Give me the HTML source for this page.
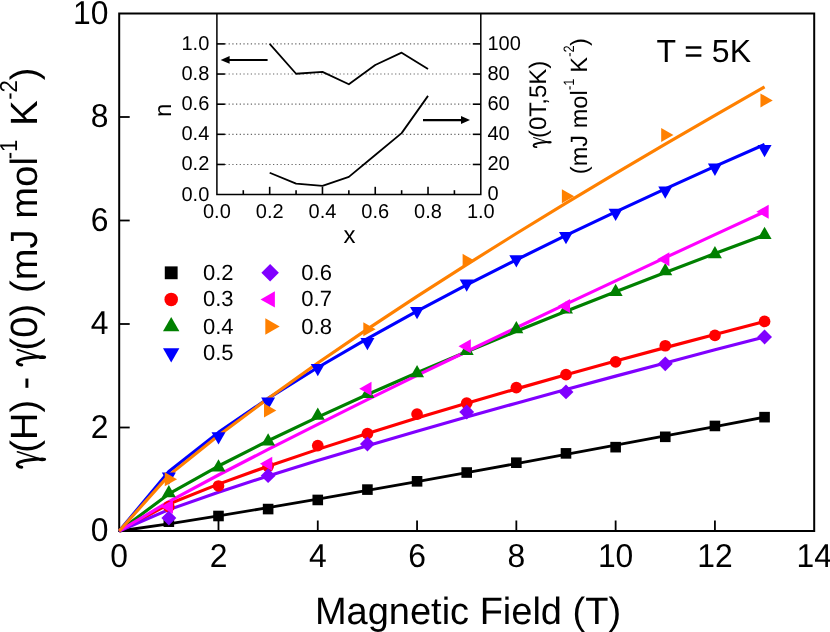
<!DOCTYPE html>
<html><head><meta charset="utf-8"><title>chart</title><style>html,body{margin:0;padding:0;background:#fff;overflow:hidden}svg{will-change:transform;text-rendering:geometricPrecision}</style></head><body>
<svg width="830" height="632" viewBox="0 0 830 632" style="display:block;font-family:'Liberation Sans',sans-serif">
<rect width="830" height="632" fill="#fff"/>
<rect x="119.20" y="13.50" width="695.00" height="517.50" fill="none" stroke="#000" stroke-width="2"/>
<line x1="218.49" y1="531.00" x2="218.49" y2="520.50" stroke="#000" stroke-width="1.8"/>
<line x1="317.77" y1="531.00" x2="317.77" y2="520.50" stroke="#000" stroke-width="1.8"/>
<line x1="417.06" y1="531.00" x2="417.06" y2="520.50" stroke="#000" stroke-width="1.8"/>
<line x1="516.34" y1="531.00" x2="516.34" y2="520.50" stroke="#000" stroke-width="1.8"/>
<line x1="615.63" y1="531.00" x2="615.63" y2="520.50" stroke="#000" stroke-width="1.8"/>
<line x1="714.92" y1="531.00" x2="714.92" y2="520.50" stroke="#000" stroke-width="1.8"/>
<line x1="119.20" y1="427.50" x2="129.70" y2="427.50" stroke="#000" stroke-width="1.8"/>
<line x1="119.20" y1="324.00" x2="129.70" y2="324.00" stroke="#000" stroke-width="1.8"/>
<line x1="119.20" y1="220.50" x2="129.70" y2="220.50" stroke="#000" stroke-width="1.8"/>
<line x1="119.20" y1="117.00" x2="129.70" y2="117.00" stroke="#000" stroke-width="1.8"/>
<text transform="translate(119.20,566.80) scale(0.965,1)" font-size="33" text-anchor="middle">0</text>
<text transform="translate(218.49,566.80) scale(0.965,1)" font-size="33" text-anchor="middle">2</text>
<text transform="translate(317.77,566.80) scale(0.965,1)" font-size="33" text-anchor="middle">4</text>
<text transform="translate(417.06,566.80) scale(0.965,1)" font-size="33" text-anchor="middle">6</text>
<text transform="translate(516.34,566.80) scale(0.965,1)" font-size="33" text-anchor="middle">8</text>
<text transform="translate(615.63,566.80) scale(0.965,1)" font-size="33" text-anchor="middle">10</text>
<text transform="translate(714.92,566.80) scale(0.965,1)" font-size="33" text-anchor="middle">12</text>
<text transform="translate(814.20,566.80) scale(0.965,1)" font-size="33" text-anchor="middle">14</text>
<text transform="translate(108.40,541.10) scale(0.965,1)" font-size="33" text-anchor="end">0</text>
<text transform="translate(108.40,437.60) scale(0.965,1)" font-size="33" text-anchor="end">2</text>
<text transform="translate(108.40,334.10) scale(0.965,1)" font-size="33" text-anchor="end">4</text>
<text transform="translate(108.40,230.60) scale(0.965,1)" font-size="33" text-anchor="end">6</text>
<text transform="translate(108.40,127.10) scale(0.965,1)" font-size="33" text-anchor="end">8</text>
<text transform="translate(108.40,23.60) scale(0.965,1)" font-size="33" text-anchor="end">10</text>
<text x="314.9" y="623.5" font-size="38">Magnetic Field (T)</text>
<g transform="translate(37,468.3) rotate(-90)"><g transform="translate(0.00,0) scale(38,-38)" fill="none" stroke="#000" stroke-linecap="round"><path d="M0.03,0.40 C0.035,0.50 0.09,0.545 0.14,0.50 C0.19,0.44 0.225,0.20 0.245,-0.04" stroke-width="0.078"/><path d="M0.435,0.515 L0.262,-0.02" stroke-width="0.042"/><ellipse cx="0.236" cy="-0.135" rx="0.05" ry="0.105" fill="#000" stroke="none"/></g><text x="15.62" y="0" font-size="38">(H) - </text><g transform="translate(102.14,0) scale(38,-38)" fill="none" stroke="#000" stroke-linecap="round"><path d="M0.03,0.40 C0.035,0.50 0.09,0.545 0.14,0.50 C0.19,0.44 0.225,0.20 0.245,-0.04" stroke-width="0.078"/><path d="M0.435,0.515 L0.262,-0.02" stroke-width="0.042"/><ellipse cx="0.236" cy="-0.135" rx="0.05" ry="0.105" fill="#000" stroke="none"/></g><text x="117.76" y="0" font-size="38" letter-spacing="0.13">(0) (mJ mol</text><text transform="translate(309.05,-20.3) scale(0.9,1)" font-size="24.5">-1</text><text x="342.62" y="0" font-size="38">K</text><text transform="translate(368.46,-20.3) scale(0.9,1)" font-size="24.5">-2</text><text x="387.97" y="0" font-size="38">)</text></g>
<text x="656.4" y="61.9" font-size="32">T = 5K</text>
<line x1="224.90" y1="164.46" x2="472.80" y2="164.46" stroke="#686868" stroke-width="1.15" stroke-dasharray="1.25 2.45"/>
<line x1="224.90" y1="134.32" x2="472.80" y2="134.32" stroke="#686868" stroke-width="1.15" stroke-dasharray="1.25 2.45"/>
<line x1="224.90" y1="104.18" x2="472.80" y2="104.18" stroke="#686868" stroke-width="1.15" stroke-dasharray="1.25 2.45"/>
<line x1="224.90" y1="74.04" x2="472.80" y2="74.04" stroke="#686868" stroke-width="1.15" stroke-dasharray="1.25 2.45"/>
<line x1="224.90" y1="43.90" x2="472.80" y2="43.90" stroke="#686868" stroke-width="1.15" stroke-dasharray="1.25 2.45"/>
<path d="M216.90,13.50 V194.60 H480.80 V13.50" fill="none" stroke="#000" stroke-width="1.5"/>
<line x1="243.29" y1="194.60" x2="243.29" y2="190.20" stroke="#000" stroke-width="1.6"/>
<line x1="269.68" y1="194.60" x2="269.68" y2="186.80" stroke="#000" stroke-width="1.6"/>
<line x1="296.07" y1="194.60" x2="296.07" y2="190.20" stroke="#000" stroke-width="1.6"/>
<line x1="322.46" y1="194.60" x2="322.46" y2="186.80" stroke="#000" stroke-width="1.6"/>
<line x1="348.85" y1="194.60" x2="348.85" y2="190.20" stroke="#000" stroke-width="1.6"/>
<line x1="375.24" y1="194.60" x2="375.24" y2="186.80" stroke="#000" stroke-width="1.6"/>
<line x1="401.63" y1="194.60" x2="401.63" y2="190.20" stroke="#000" stroke-width="1.6"/>
<line x1="428.02" y1="194.60" x2="428.02" y2="186.80" stroke="#000" stroke-width="1.6"/>
<line x1="454.41" y1="194.60" x2="454.41" y2="190.20" stroke="#000" stroke-width="1.6"/>
<line x1="216.90" y1="164.46" x2="224.90" y2="164.46" stroke="#000" stroke-width="1.6"/>
<line x1="480.80" y1="164.46" x2="472.80" y2="164.46" stroke="#000" stroke-width="1.6"/>
<line x1="216.90" y1="134.32" x2="224.90" y2="134.32" stroke="#000" stroke-width="1.6"/>
<line x1="480.80" y1="134.32" x2="472.80" y2="134.32" stroke="#000" stroke-width="1.6"/>
<line x1="216.90" y1="104.18" x2="224.90" y2="104.18" stroke="#000" stroke-width="1.6"/>
<line x1="480.80" y1="104.18" x2="472.80" y2="104.18" stroke="#000" stroke-width="1.6"/>
<line x1="216.90" y1="74.04" x2="224.90" y2="74.04" stroke="#000" stroke-width="1.6"/>
<line x1="480.80" y1="74.04" x2="472.80" y2="74.04" stroke="#000" stroke-width="1.6"/>
<line x1="216.90" y1="43.90" x2="224.90" y2="43.90" stroke="#000" stroke-width="1.6"/>
<line x1="480.80" y1="43.90" x2="472.80" y2="43.90" stroke="#000" stroke-width="1.6"/>
<text x="209.30" y="200.50" font-size="20" text-anchor="end">0.0</text>
<text x="216.90" y="218.20" font-size="20" text-anchor="middle">0.0</text>
<text x="487.50" y="200.30" font-size="20" text-anchor="start">0</text>
<text x="209.30" y="170.36" font-size="20" text-anchor="end">0.2</text>
<text x="269.68" y="218.20" font-size="20" text-anchor="middle">0.2</text>
<text x="487.50" y="170.16" font-size="20" text-anchor="start">20</text>
<text x="209.30" y="140.22" font-size="20" text-anchor="end">0.4</text>
<text x="322.46" y="218.20" font-size="20" text-anchor="middle">0.4</text>
<text x="487.50" y="140.02" font-size="20" text-anchor="start">40</text>
<text x="209.30" y="110.08" font-size="20" text-anchor="end">0.6</text>
<text x="375.24" y="218.20" font-size="20" text-anchor="middle">0.6</text>
<text x="487.50" y="109.88" font-size="20" text-anchor="start">60</text>
<text x="209.30" y="79.94" font-size="20" text-anchor="end">0.8</text>
<text x="428.02" y="218.20" font-size="20" text-anchor="middle">0.8</text>
<text x="487.50" y="79.74" font-size="20" text-anchor="start">80</text>
<text x="209.30" y="49.80" font-size="20" text-anchor="end">1.0</text>
<text x="480.80" y="218.20" font-size="20" text-anchor="middle">1.0</text>
<text x="487.50" y="49.60" font-size="20" text-anchor="start">100</text>
<text x="349.5" y="243.4" font-size="24" text-anchor="middle">x</text>
<text transform="translate(170.9,110.3) rotate(-90)" font-size="24" text-anchor="middle">n</text>
<g transform="translate(546,147.9) rotate(-90)"><g transform="translate(0.00,0) scale(24,-24)" fill="none" stroke="#000" stroke-linecap="round"><path d="M0.03,0.40 C0.035,0.50 0.09,0.545 0.14,0.50 C0.19,0.44 0.225,0.20 0.245,-0.04" stroke-width="0.078"/><path d="M0.435,0.515 L0.262,-0.02" stroke-width="0.042"/><ellipse cx="0.236" cy="-0.135" rx="0.05" ry="0.105" fill="#000" stroke="none"/></g><text x="9.86" y="0" font-size="24">(0T,5K)</text></g>
<g transform="translate(586.6,174.2) rotate(-90)"><text x="0" y="0" font-size="23.6">(mJ mol</text><text transform="translate(84.20,-12.5) scale(0.85,1)" font-size="15">-1</text><text x="101.46" y="0" font-size="23.6">K</text><text transform="translate(117.50,-12.5) scale(0.85,1)" font-size="15">-2</text><text x="128.20" y="0" font-size="23.6">)</text></g>
<polyline fill="none" stroke="#000" stroke-width="1.8" stroke-linejoin="round" points="269.68,43.90 296.07,73.74 322.46,71.93 348.85,84.29 375.24,65.00 401.63,52.64 428.02,69.07"/>
<polyline fill="none" stroke="#000" stroke-width="1.8" stroke-linejoin="round" points="269.68,172.75 296.07,183.67 322.46,185.86 348.85,176.82 375.24,154.97 401.63,133.11 428.02,95.89"/>
<line x1="267.6" y1="59.9" x2="228" y2="59.9" stroke="#000" stroke-width="2"/><polygon points="220.6,59.9 229.6,56 229.6,63.8" fill="#000"/>
<line x1="423.0" y1="120.1" x2="462" y2="120.1" stroke="#000" stroke-width="2.1"/><polygon points="470,120.1 461,116.1 461,124.1" fill="#000"/>
<polyline fill="none" stroke="#000000" stroke-width="2.8" stroke-linejoin="round" points="119.20,531.00 168.84,523.87 218.49,515.92 268.13,507.64 317.77,499.12 367.42,490.43 417.06,481.61 466.70,472.66 516.34,463.61 565.99,454.47 615.63,445.24 665.27,435.94 714.92,426.58 764.56,417.15"/>
<polyline fill="none" stroke="#ff0000" stroke-width="3.15" stroke-linejoin="round" points="119.20,531.00 168.84,504.07 218.49,484.11 268.13,466.15 317.77,449.37 367.42,433.41 417.06,418.09 466.70,403.27 516.34,388.87 565.99,374.83 615.63,361.09 665.27,347.63 714.92,334.41 764.56,321.41"/>
<polyline fill="none" stroke="#008000" stroke-width="3.15" stroke-linejoin="round" points="119.20,531.00 168.84,493.93 218.49,466.01 268.13,440.74 317.77,417.06 367.42,394.49 417.06,372.76 466.70,351.72 516.34,331.24 565.99,311.24 615.63,291.66 665.27,272.45 714.92,253.57 764.56,234.99"/>
<polyline fill="none" stroke="#0000ff" stroke-width="3.15" stroke-linejoin="round" points="119.20,531.00 168.84,471.56 218.49,432.42 268.13,398.46 317.77,367.49 367.42,338.56 417.06,311.16 466.70,284.98 516.34,259.79 565.99,235.44 615.63,211.81 665.27,188.81 714.92,166.37 764.56,144.43"/>
<polyline fill="none" stroke="#8000ff" stroke-width="3.15" stroke-linejoin="round" points="119.20,531.00 168.84,509.62 218.49,492.20 268.13,476.01 317.77,460.58 367.42,445.68 417.06,431.19 466.70,417.04 516.34,403.18 565.99,389.55 615.63,376.14 665.27,362.91 714.92,349.85 764.56,336.94"/>
<polyline fill="none" stroke="#ff00ff" stroke-width="3.15" stroke-linejoin="round" points="119.20,531.00 168.84,501.61 218.49,475.00 268.13,449.35 317.77,424.31 367.42,399.70 417.06,375.44 466.70,351.46 516.34,327.72 565.99,304.18 615.63,280.83 665.27,257.65 714.92,234.61 764.56,211.70"/>
<polyline fill="none" stroke="#ff8000" stroke-width="3.15" stroke-linejoin="round" points="119.20,531.00 168.84,475.37 218.49,435.52 268.13,398.56 317.77,363.08 367.42,329.14 417.06,296.38 466.70,264.56 516.34,233.53 565.99,203.17 615.63,173.40 665.27,144.15 714.92,115.36 764.56,86.99"/>
<rect x="163.54" y="516.38" width="10.60" height="10.60" fill="#000000"/>
<rect x="213.19" y="510.69" width="10.60" height="10.60" fill="#000000"/>
<rect x="262.83" y="503.76" width="10.60" height="10.60" fill="#000000"/>
<rect x="312.47" y="494.65" width="10.60" height="10.60" fill="#000000"/>
<rect x="362.12" y="484.30" width="10.60" height="10.60" fill="#000000"/>
<rect x="411.76" y="476.02" width="10.60" height="10.60" fill="#000000"/>
<rect x="461.40" y="467.22" width="10.60" height="10.60" fill="#000000"/>
<rect x="511.04" y="457.39" width="10.60" height="10.60" fill="#000000"/>
<rect x="560.69" y="448.07" width="10.60" height="10.60" fill="#000000"/>
<rect x="610.33" y="441.86" width="10.60" height="10.60" fill="#000000"/>
<rect x="659.97" y="431.51" width="10.60" height="10.60" fill="#000000"/>
<rect x="709.62" y="420.65" width="10.60" height="10.60" fill="#000000"/>
<rect x="759.26" y="411.85" width="10.60" height="10.60" fill="#000000"/>
<circle cx="168.84" cy="506.68" r="5.85" fill="#ff0000"/>
<circle cx="218.49" cy="485.98" r="5.85" fill="#ff0000"/>
<circle cx="268.13" cy="466.31" r="5.85" fill="#ff0000"/>
<circle cx="317.77" cy="445.61" r="5.85" fill="#ff0000"/>
<circle cx="367.42" cy="433.71" r="5.85" fill="#ff0000"/>
<circle cx="417.06" cy="414.05" r="5.85" fill="#ff0000"/>
<circle cx="466.70" cy="403.18" r="5.85" fill="#ff0000"/>
<circle cx="516.34" cy="387.65" r="5.85" fill="#ff0000"/>
<circle cx="565.99" cy="374.72" r="5.85" fill="#ff0000"/>
<circle cx="615.63" cy="361.78" r="5.85" fill="#ff0000"/>
<circle cx="665.27" cy="345.74" r="5.85" fill="#ff0000"/>
<circle cx="714.92" cy="335.38" r="5.85" fill="#ff0000"/>
<circle cx="764.56" cy="321.41" r="5.85" fill="#ff0000"/>
<polygon points="161.84,497.32 175.84,497.32 168.84,485.02" fill="#008000"/>
<polygon points="211.49,471.45 225.49,471.45 218.49,459.15" fill="#008000"/>
<polygon points="261.13,445.57 275.13,445.57 268.13,433.27" fill="#008000"/>
<polygon points="310.77,419.70 324.77,419.70 317.77,407.40" fill="#008000"/>
<polygon points="360.42,397.96 374.42,397.96 367.42,385.66" fill="#008000"/>
<polygon points="410.06,377.26 424.06,377.26 417.06,364.96" fill="#008000"/>
<polygon points="459.70,355.01 473.70,355.01 466.70,342.71" fill="#008000"/>
<polygon points="509.34,333.28 523.34,333.28 516.34,320.98" fill="#008000"/>
<polygon points="558.99,313.61 572.99,313.61 565.99,301.31" fill="#008000"/>
<polygon points="608.63,296.01 622.63,296.01 615.63,283.71" fill="#008000"/>
<polygon points="658.27,275.32 672.27,275.32 665.27,263.02" fill="#008000"/>
<polygon points="707.92,258.24 721.92,258.24 714.92,245.94" fill="#008000"/>
<polygon points="757.56,239.09 771.56,239.09 764.56,226.79" fill="#008000"/>
<polygon points="161.84,472.56 175.84,472.56 168.84,484.86" fill="#0000ff"/>
<polygon points="211.49,432.20 225.49,432.20 218.49,444.50" fill="#0000ff"/>
<polygon points="261.13,397.52 275.13,397.52 268.13,409.82" fill="#0000ff"/>
<polygon points="310.77,363.89 324.77,363.89 317.77,376.19" fill="#0000ff"/>
<polygon points="360.42,338.01 374.42,338.01 367.42,350.31" fill="#0000ff"/>
<polygon points="410.06,306.96 424.06,306.96 417.06,319.26" fill="#0000ff"/>
<polygon points="459.70,279.53 473.70,279.53 466.70,291.83" fill="#0000ff"/>
<polygon points="509.34,255.21 523.34,255.21 516.34,267.51" fill="#0000ff"/>
<polygon points="558.99,231.92 572.99,231.92 565.99,244.22" fill="#0000ff"/>
<polygon points="608.63,208.64 622.63,208.64 615.63,220.94" fill="#0000ff"/>
<polygon points="658.27,186.39 672.27,186.39 665.27,198.69" fill="#0000ff"/>
<polygon points="707.92,163.62 721.92,163.62 714.92,175.92" fill="#0000ff"/>
<polygon points="757.56,144.98 771.56,144.98 764.56,157.28" fill="#0000ff"/>
<polygon points="161.39,518.06 168.84,510.61 176.29,518.06 168.84,525.51" fill="#8000ff"/>
<polygon points="260.68,475.63 268.13,468.18 275.58,475.63 268.13,483.08" fill="#8000ff"/>
<polygon points="359.97,444.06 367.42,436.61 374.87,444.06 367.42,451.51" fill="#8000ff"/>
<polygon points="459.25,411.98 466.70,404.53 474.15,411.98 466.70,419.43" fill="#8000ff"/>
<polygon points="558.54,391.90 565.99,384.45 573.44,391.90 565.99,399.35" fill="#8000ff"/>
<polygon points="657.82,363.85 665.27,356.40 672.72,363.85 665.27,371.30" fill="#8000ff"/>
<polygon points="757.11,336.94 764.56,329.49 772.01,336.94 764.56,344.39" fill="#8000ff"/>
<polygon points="172.94,499.68 172.94,513.68 160.64,506.68" fill="#ff00ff"/>
<polygon points="272.23,456.73 272.23,470.73 259.93,463.73" fill="#ff00ff"/>
<polygon points="371.52,381.69 371.52,395.69 359.22,388.69" fill="#ff00ff"/>
<polygon points="470.80,339.25 470.80,353.25 458.50,346.25" fill="#ff00ff"/>
<polygon points="570.09,298.89 570.09,312.89 557.79,305.89" fill="#ff00ff"/>
<polygon points="669.37,252.31 669.37,266.31 657.07,259.31" fill="#ff00ff"/>
<polygon points="768.66,204.70 768.66,218.70 756.36,211.70" fill="#ff00ff"/>
<polygon points="164.74,472.25 164.74,486.25 177.04,479.25" fill="#ff8000"/>
<polygon points="264.03,403.42 264.03,417.42 276.33,410.42" fill="#ff8000"/>
<polygon points="363.31,322.18 363.31,336.18 375.62,329.18" fill="#ff8000"/>
<polygon points="462.60,253.87 462.60,267.87 474.90,260.87" fill="#ff8000"/>
<polygon points="561.89,189.18 561.89,203.18 574.19,196.18" fill="#ff8000"/>
<polygon points="661.17,128.11 661.17,142.11 673.47,135.11" fill="#ff8000"/>
<polygon points="760.46,93.44 760.46,107.44 772.76,100.44" fill="#ff8000"/>
<rect x="164.79" y="266.39" width="12.83" height="12.83" fill="#000000"/>
<text x="203.00" y="279.80" font-size="22">0.2</text>
<circle cx="171.20" cy="299.40" r="6.76" fill="#ff0000"/>
<text x="203.00" y="306.40" font-size="22">0.3</text>
<polygon points="163.01,331.30 179.39,331.30 171.20,316.91" fill="#008000"/>
<text x="203.00" y="333.50" font-size="22">0.4</text>
<polygon points="163.01,348.20 179.39,348.20 171.20,362.59" fill="#0000ff"/>
<text x="203.00" y="360.00" font-size="22">0.5</text>
<polygon points="261.35,272.80 270.10,264.05 278.85,272.80 270.10,281.55" fill="#8000ff"/>
<text x="301.30" y="279.80" font-size="22">0.6</text>
<polygon points="274.90,291.21 274.90,307.59 260.51,299.40" fill="#ff00ff"/>
<text x="301.30" y="306.40" font-size="22">0.7</text>
<polygon points="265.30,318.31 265.30,334.69 279.69,326.50" fill="#ff8000"/>
<text x="301.30" y="333.50" font-size="22">0.8</text>
</svg>
</body></html>
